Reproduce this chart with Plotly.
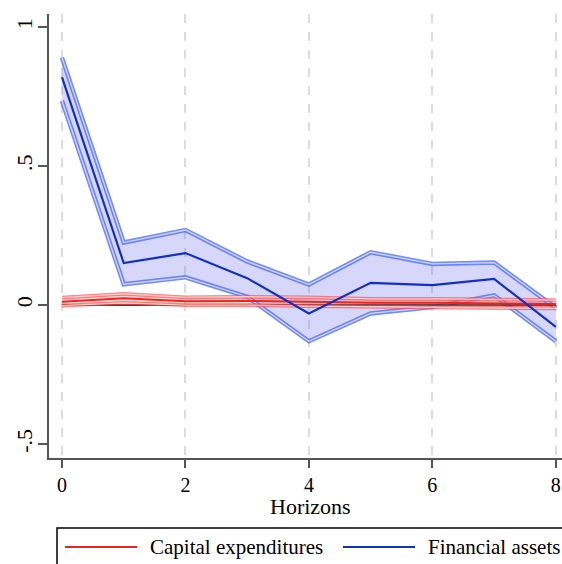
import plotly.graph_objects as go

horizons = [0, 1, 2, 3, 4, 5, 6, 7, 8]

fin_mean = [0.82, 0.151, 0.187, 0.097, -0.03, 0.08, 0.072, 0.094, -0.078]
fin_upper = [0.89, 0.225, 0.27, 0.157, 0.074, 0.19, 0.148, 0.153, -0.01]
fin_lower = [0.735, 0.075, 0.10, 0.03, -0.13, -0.03, -0.007, 0.035, -0.13]

cap_mean = [0.012, 0.025, 0.014, 0.015, 0.012, 0.008, 0.008, 0.006, 0.004]
cap_upper = [0.027, 0.040, 0.028, 0.030, 0.028, 0.022, 0.022, 0.020, 0.018]
cap_lower = [-0.002, 0.008, 0.000, 0.000, -0.004, -0.006, -0.006, -0.008, -0.012]

zero_line = [0] * len(horizons)

series_names = ["Capital expenditures", "Financial assets"]
series_colors = ["#e8281e", "#1030c8"]
x_title = "Horizons"

FONT = "Liberation Serif, Times New Roman, serif"

# plot area in pixels (for converting legend placement to paper coords)
W, H = 562, 564
L, R, T, B = 49, 0, 14, 106
PW, PH = W - L - R, H - T - B


def px_x(p):
    return (p - L) / PW


def px_y(p):
    return (H - B - p) / PH


fig = go.Figure()


def add_band(lower, upper, fill, edge, center, ew):
    fig.add_trace(go.Scatter(x=horizons, y=lower, mode="lines", line=dict(width=0),
                             showlegend=False, hoverinfo="skip"))
    fig.add_trace(go.Scatter(x=horizons, y=upper, mode="lines", line=dict(width=0),
                             fill="tonexty", fillcolor=fill, showlegend=False, hoverinfo="skip"))
    for b in (upper, lower):
        fig.add_trace(go.Scatter(x=horizons, y=b, mode="lines", line=dict(width=ew, color=edge),
                                 showlegend=False, hoverinfo="skip"))
        fig.add_trace(go.Scatter(x=horizons, y=b, mode="lines", line=dict(width=1.3, color=center),
                                 showlegend=False, hoverinfo="skip"))


add_band(fin_lower, fin_upper, "rgba(110,110,240,0.28)", "rgba(80,110,255,0.8)", "rgba(215,220,255,0.95)", 4.5)
fig.add_trace(go.Scatter(x=horizons, y=zero_line, mode="lines", line=dict(width=1.5, color="black"),
                         showlegend=False, hoverinfo="skip"))
add_band(cap_lower, cap_upper, "rgba(255,110,110,0.28)", "rgba(255,70,70,0.65)", "rgba(255,215,215,0.9)", 3.8)

fig.add_trace(go.Scatter(x=horizons, y=cap_mean, mode="lines", name=series_names[0],
                         line=dict(width=2, color=series_colors[0]), showlegend=False))
fig.add_trace(go.Scatter(x=horizons, y=fin_mean, mode="lines", name=series_names[1],
                         line=dict(width=2.2, color=series_colors[1]), showlegend=False))

# Legend drawn as box + sample lines + text (Stata-style)
shapes = [dict(type="rect", xref="paper", yref="paper",
               x0=px_x(57), x1=px_x(620), y0=px_y(528), y1=px_y(600),
               line=dict(color="black", width=1.5), fillcolor="rgba(0,0,0,0)", layer="above")]
annotations = []
leg_y = px_y(547)
for name, color, x0 in zip(series_names, series_colors, [65, 343]):
    shapes.append(dict(type="line", xref="paper", yref="paper",
                       x0=px_x(x0), x1=px_x(x0 + 72), y0=leg_y, y1=leg_y,
                       line=dict(color=color, width=2)))
    annotations.append(dict(text=name, xref="paper", yref="paper", x=px_x(x0 + 83), y=leg_y,
                            xanchor="left", yanchor="middle", showarrow=False,
                            font=dict(family=FONT, size=21, color="black")))
annotations.append(dict(text=x_title, xref="paper", yref="paper", x=px_x(310), y=px_y(506),
                        xanchor="center", yanchor="middle", showarrow=False,
                        font=dict(family=FONT, size=22, color="black")))

fig.update_layout(
    width=W, height=H,
    margin=dict(l=L, r=R, t=T, b=B, autoexpand=False),
    paper_bgcolor="white", plot_bgcolor="white",
    font=dict(family=FONT, size=21, color="black"),
    showlegend=False,
    shapes=shapes, annotations=annotations,
)
fig.update_xaxes(
    range=[-0.21, 8.1], tickvals=[0, 2, 4, 6, 8], ticktext=["0", "2", "4", "6", "8"],
    showgrid=True, gridcolor="#dcdcdc", gridwidth=1.5, griddash="dash",
    showline=True, linecolor="#555555", linewidth=2,
    ticks="outside", ticklen=8, tickcolor="#555555", tickwidth=1.5,
    zeroline=False, tickfont=dict(size=20), ticklabeloverflow="allow",
)
fig.update_yaxes(
    range=[-0.55, 1.047], tickvals=[-0.5, 0, 0.5, 1], ticktext=["-.5", "0", ".5", "1"],
    tickangle=-90, showgrid=False, zeroline=False,
    showline=True, linecolor="#555555", linewidth=2,
    ticks="outside", ticklen=9, tickcolor="#555555", tickwidth=1.5,
    tickfont=dict(size=22), ticklabelstandoff=-3,
)

fig.write_html("out.html")
